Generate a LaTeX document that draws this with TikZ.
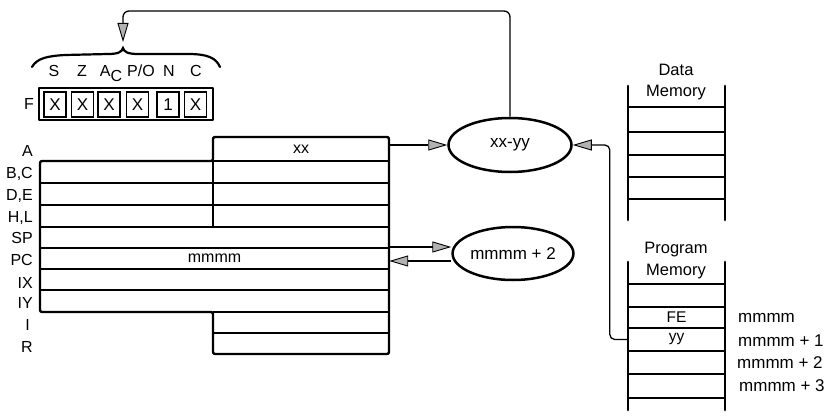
\documentclass[tikz,border=0pt]{standalone}
\usepackage{fontspec}
\setmainfont{Liberation Sans}
\usetikzlibrary{arrows.meta,shapes.geometric}
\begin{document}
\begin{tikzpicture}[x=1pt,y=-1pt, font=\fontsize{16}{18}\selectfont,
 reg/.style={inner sep=0pt, minimum height=21.5pt, font=\fontsize{16}{18}\selectfont},
 lbl/.style={anchor=east, inner sep=0pt, text height=11.4pt, text depth=0pt},
 rlbl/.style={anchor=base west, inner sep=0pt, font=\fontsize{17}{19}\selectfont},
 ttl/.style={inner sep=0pt, font=\fontsize{16.5}{19}\selectfont},
 arr/.style={line width=1.3pt, -{Triangle[length=19pt,width=11pt,fill=gray!60,line width=0.9pt]}},
 box/.style={line width=2.4pt, line join=round},
 cell/.style={line width=1.7pt},
 ell/.style={ellipse, draw, line width=2.5pt, inner sep=0pt, font=\fontsize{17}{19}\selectfont},
 rail/.style={line width=2.8pt, line cap=round},
 mcell/.style={inner sep=0pt, minimum width=97pt, minimum height=21pt, font=\fontsize{15.5}{18}\selectfont},
 flagbit/.style={draw, line width=1.7pt, minimum width=22pt, minimum height=25pt, inner sep=0pt, font=\fontsize{17}{19}\selectfont},
 flet/.style={inner sep=0pt, text height=11.4pt, text depth=0pt}]

\useasboundingbox (0,0) rectangle (838,417);

% ---------- register file ----------
\draw[cell] (213,161) -- (389,161);
\foreach \y in {183,205,227,248,269,290} \draw[cell] (40,\y) -- (389,\y);
\draw[cell] (213,161) -- (213,227);
\draw[cell] (213,312) -- (389,312);
\draw[cell] (213,333) -- (389,333);
\draw[box, rounded corners=2pt] (213,137) -- (389,137) -- (389,354) -- (213,354) -- (213,312) -- (40,312) -- (40,161) -- (213,161) -- cycle;

\node[reg, minimum width=176pt] (A) at (301,149) {xx};
\node[reg, minimum width=349pt] (PC) at (214.5,258.5) {mmmm};

\node[lbl] (lA)  at (33,150.5) {A};
\node[lbl] (lBC) at (33,173) {B,C};
\node[lbl] (lDE) at (33,195) {D,E};
\node[lbl] (lHL) at (33,217) {H,L};
\node[lbl] (lSP) at (33,237.5) {SP};
\node[lbl] (lPC) at (33,260) {PC};
\node[lbl] (lIX) at (33,283) {IX};
\node[lbl] (lIY) at (33,303) {IY};
\node[lbl] (lI)  at (30,325) {I};
\node[lbl] (lR)  at (33,347) {R};

% ---------- flags ----------
\node[lbl] (lF) at (34,104) {F};
\draw[box] (39,88) rectangle (213,120);
\node[flagbit] (f0) at (55,104.5) {X};
\node[flagbit] (f1) at (82.5,104.5) {X};
\node[flagbit] (f2) at (109,104.5) {X};
\node[flagbit] (f3) at (137.5,104.5) {X};
\node[flagbit] (f4) at (168,104.5) {1};
\node[flagbit] (f5) at (195.5,104.5) {X};

\node[flet] (fS) at (54,71) {S};
\node[flet] (fZ) at (82,71) {Z};
\node[flet] (fA) at (111,71) {A\raisebox{-5pt}{C}};
\node[flet] (fP) at (141,71) {P/O};
\node[flet] (fN) at (169,71) {N};
\node[flet] (fC) at (196,71) {C};

\draw[line width=2.2pt, line cap=round] (32,67) .. controls (37,58) and (48,56) .. (65,55) -- (108,54) .. controls (118,54) and (122,52) .. (123,48) .. controls (124,52) and (128,54) .. (138,54) -- (188,54) .. controls (208,54) and (216,58) .. (220,67);
\coordinate (ftip) at (123,42);
\coordinate (topL) at (123,11);

% ---------- ALU ellipses ----------
\node[ell, minimum width=123pt, minimum height=54pt] (E1) at (510,145) {xx-yy};
\node[ell, minimum width=117pt, minimum height=53pt] (E2) at (513,253.5) {mmmm + 2};

% ---------- data memory ----------
\node[ttl] (dT1) at (676,70) {Data};
\node[ttl] (dT2) at (676,93) {Memory};
\draw[rail] (628,86) -- (628,220);
\draw[rail] (725,86) -- (725,220);
\foreach \y in {107,132,155,177,199} \draw[cell] (628,\y) -- (725,\y);

% ---------- program memory ----------
\node[ttl] (pT1) at (676,250) {Program};
\node[ttl] (pT2) at (676,272) {Memory};
\draw[rail] (628,262) -- (628,410);
\draw[rail] (725,262) -- (725,410);
\foreach \y in {284,307,328,351,374,398} \draw[cell] (628,\y) -- (725,\y);
\node[mcell] (FE) at (676.5,317.5) {FE};
\node[mcell] (YY) at (676.5,339.5) {yy};
\node[rlbl] (m0) at (738,322) {mmmm};
\node[rlbl] (m1) at (738,346.5) {mmmm + 1};
\node[rlbl] (m2) at (737,368) {mmmm + 2};
\node[rlbl] (m3) at (739,391) {mmmm + 3};

% ---------- connectors ----------
\draw[arr] (A.east |- E1.west) -- (E1.west);
\draw[arr, rounded corners=5pt] (YY.west) -- ++(-18,0) |- (E1.east);
\draw[arr, rounded corners=6pt] (E1.north) |- (topL) -- (ftip);
\path ([yshift=11.5pt]PC.east) coordinate (p1);
\path ([yshift=-2.5pt]PC.east) coordinate (p2);
\draw[arr] (p1) -- (p1 -| E2.west);
\draw[arr] (p2 -| E2.west) -- (p2);
\end{tikzpicture}
\end{document}
